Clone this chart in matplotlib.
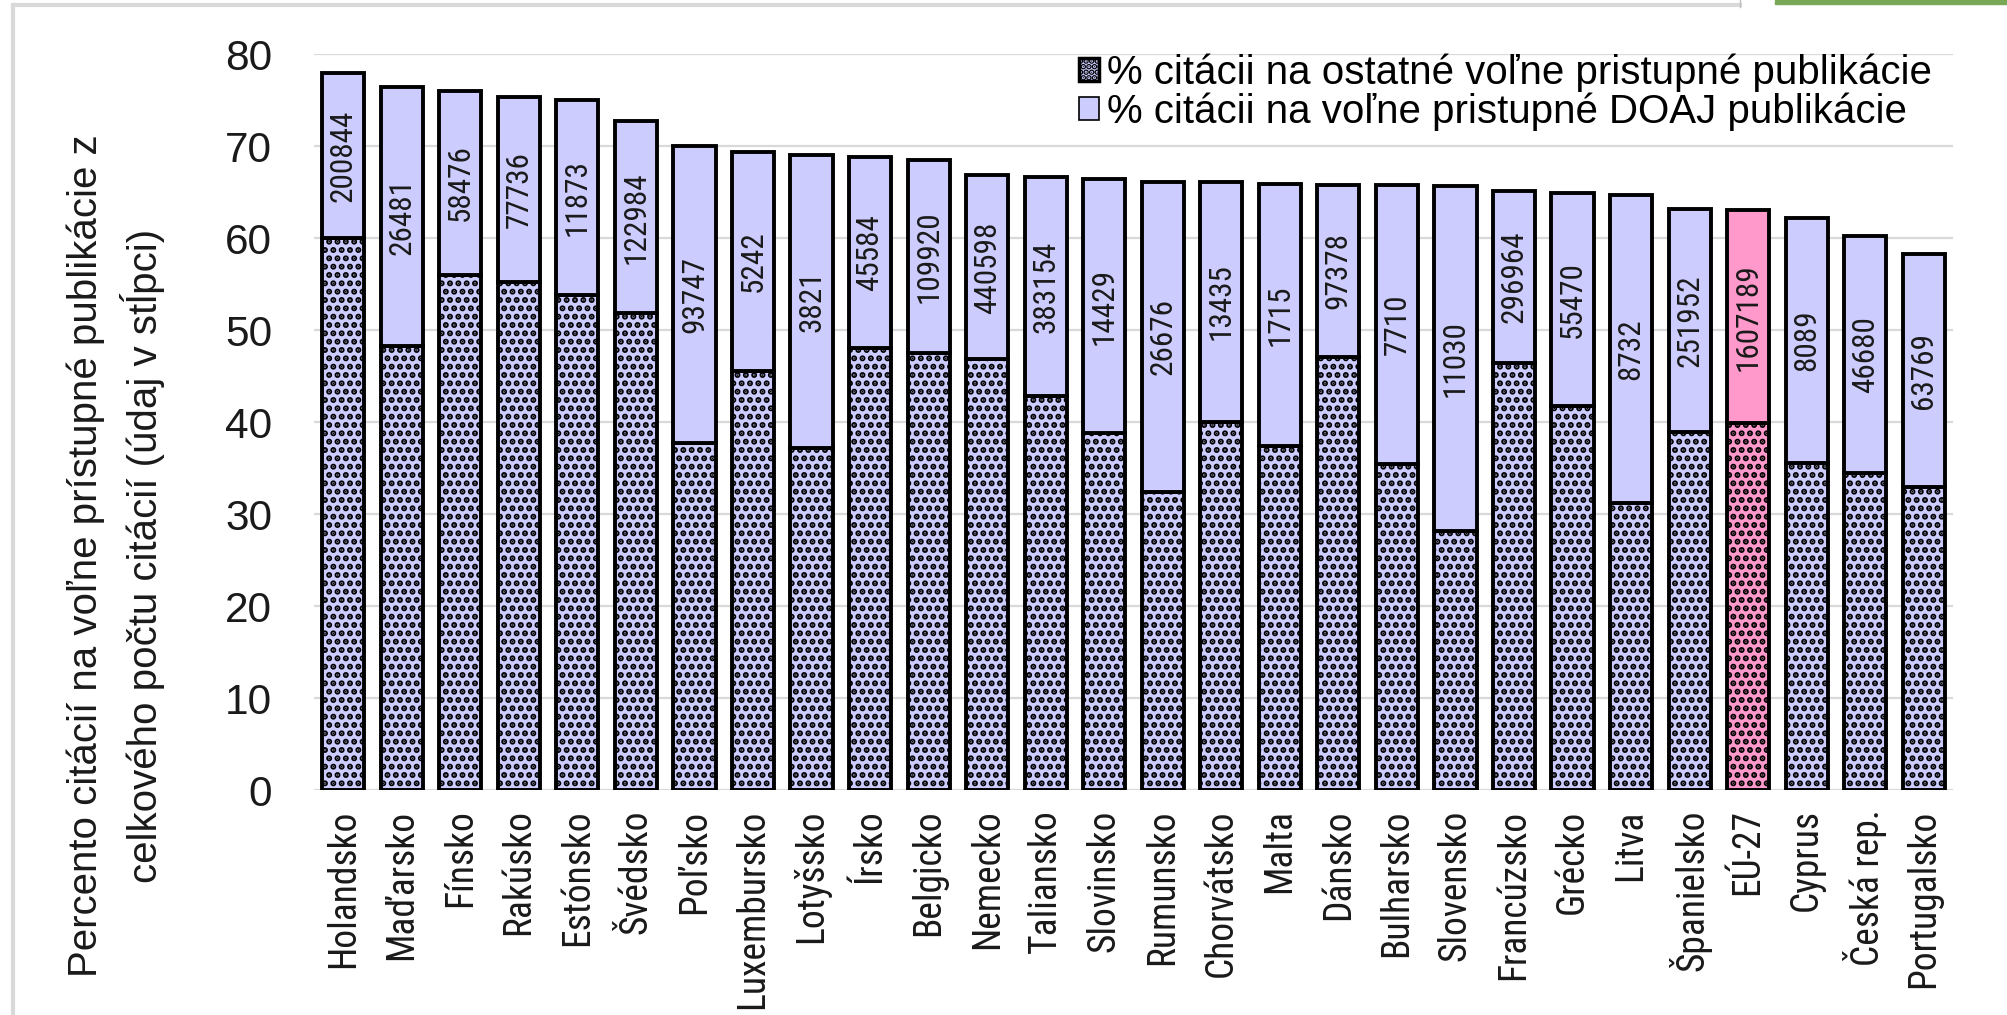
import numpy as np
import matplotlib.pyplot as plt
import matplotlib.patches as mpatches
from matplotlib.lines import Line2D
from matplotlib import font_manager

# ── data ────────────────────────────────────────────────────────────────────
countries = ["Holandsko", "Maďarsko", "Fínsko", "Rakúsko", "Estónsko", "Švédsko",
             "Poľsko", "Luxembursko", "Lotyšsko", "Írsko", "Belgicko", "Nemecko",
             "Taliansko", "Slovinsko", "Rumunsko", "Chorvátsko", "Malta", "Dánsko",
             "Bulharsko", "Slovensko", "Francúzsko", "Grécko", "Litva", "Španielsko",
             "EÚ-27", "Cyprus", "Česká rep.", "Portugalsko"]

# % of citations to other open-access publications (lower, hatched part)
other_oa = [60.0, 48.3, 56.0, 55.2, 53.8, 51.8, 37.7, 45.5, 37.2, 48.0,
            47.5, 46.8, 42.8, 38.8, 32.4, 40.0, 37.4, 47.1, 35.4, 28.1,
            46.4, 41.7, 31.2, 38.9, 39.9, 35.5, 34.5, 32.9]

# total % of citations to open-access publications (top of the bar)
total_oa = [77.9, 76.4, 76.0, 75.3, 75.0, 72.7, 70.0, 69.4, 69.0, 68.8,
            68.5, 66.8, 66.6, 66.4, 66.1, 66.1, 65.9, 65.8, 65.8, 65.6,
            65.1, 64.9, 64.7, 63.2, 63.0, 62.2, 60.2, 58.3]

# total number of citations (written in the bar)
citations = [200844, 26481, 58476, 77736, 11873, 122984, 93747, 5242, 3821, 45584,
             109920, 440598, 383154, 14429, 26676, 13435, 1715, 97378, 7710, 11030,
             296964, 55470, 8732, 251952, 1607189, 8089, 46680, 63769]

legend_labels = ["% citácii na ostatné voľne pristupné publikácie",
                 "% citácii na voľne pristupné DOAJ publikácie"]
y_label = ("Percento citácií na voľne prístupné publikácie z\n"
           "celkového počtu citácií (údaj v stĺpci)")

# ── style ───────────────────────────────────────────────────────────────────
LAV = "#CCCCFF"
PINK = "#FF99CC"
GRID = "#D9D9D9"
TXT = "#1a1a1a"
REG = ["Liberation Sans", "DejaVu Sans"]

# a narrow face if one is installed, else the regular one a bit smaller
_names = {f.name for f in font_manager.fontManager.ttflist}
_narrow = next((n for n in ["Liberation Sans Narrow", "Arial Narrow", "Roboto Condensed"]
                if n in _names), None)
if _narrow:
    NARROW, X_FS, BAR_FS = [_narrow] + REG, 27, 22.5
else:
    NARROW, X_FS, BAR_FS = REG, 23.5, 20

plt.rcParams["hatch.linewidth"] = 3.0
plt.rcParams["font.family"] = REG

W, H = 2008, 1015
fig = plt.figure(figsize=(W / 100, H / 100), dpi=100)
ax = fig.add_axes([314 / W, 1 - 790 / H, (1953 - 314) / W, (790 - 54) / H])

x = np.arange(len(countries))
colors = [PINK if c == "EÚ-27" else LAV for c in countries]
lower = np.array(other_oa)
upper = np.array(total_oa) - lower

ax.bar(x, lower, width=0.72, color=colors, edgecolor="black",
       linewidth=2.8, hatch="..", zorder=3)
ax.bar(x, upper, bottom=lower, width=0.72, color=colors, edgecolor="black",
       linewidth=2.8, zorder=3)

# numbers in the upper segment
for xi, lo, hi, n in zip(x, lower, total_oa, citations):
    ax.text(xi, (lo + hi) / 2, str(n), rotation=90, ha="center", va="center",
            fontsize=BAR_FS, family=NARROW, color=TXT, zorder=4)

ax.set_xlim(-0.5, len(countries) - 0.5)
ax.set_ylim(0, 80)
ax.set_yticks(range(0, 81, 10))
ax.set_xticks(x)
ax.set_xticklabels(countries, rotation=90, fontsize=X_FS, family=NARROW, color=TXT)
ax.tick_params(axis="x", length=0, pad=14)
ax.tick_params(axis="y", length=0, pad=30, labelsize=30.5, labelcolor=TXT)
ax.grid(axis="y", color=GRID, linewidth=1.6, zorder=0)
ax.set_axisbelow(True)
for s in ax.spines.values():
    s.set_visible(False)
ax.patch.set_alpha(0)

fig.text(116 / W, 1 - 556 / H, y_label, rotation=90, ha="center", va="center",
         multialignment="center", fontsize=29, linespacing=1.4, color=TXT)

handles = [
    mpatches.Patch(facecolor=LAV, edgecolor="black", hatch="...", linewidth=2.5),
    mpatches.Patch(facecolor=LAV, edgecolor="black", linewidth=1.2),
]
fig.legend(handles, legend_labels, loc="upper right",
           bbox_to_anchor=(1932 / W, 1 - 53 / H), frameon=False, fontsize=29,
           handlelength=0.5, handleheight=0.5, handletextpad=0.2,
           labelspacing=0.02, borderpad=0, borderaxespad=0)

# screenshot frame
fig.add_artist(Line2D([13 / W, 13 / W], [0, 1 - 5 / H], transform=fig.transFigure,
                      color=GRID, linewidth=3))
fig.add_artist(Line2D([13 / W, 1740 / W], [1 - 5 / H, 1 - 5 / H],
                      transform=fig.transFigure, color=GRID, linewidth=3))
fig.add_artist(Line2D([1740 / W, 1740 / W], [1 - 7 / H, 1], transform=fig.transFigure,
                      color="#BFBFBF", linewidth=1))
fig.add_artist(mpatches.Rectangle((1775 / W, 1 - 4 / H), (W - 1775) / W, 4 / H,
                                  transform=fig.transFigure, color="#77A855"))

fig.savefig("out.png", dpi=100)
